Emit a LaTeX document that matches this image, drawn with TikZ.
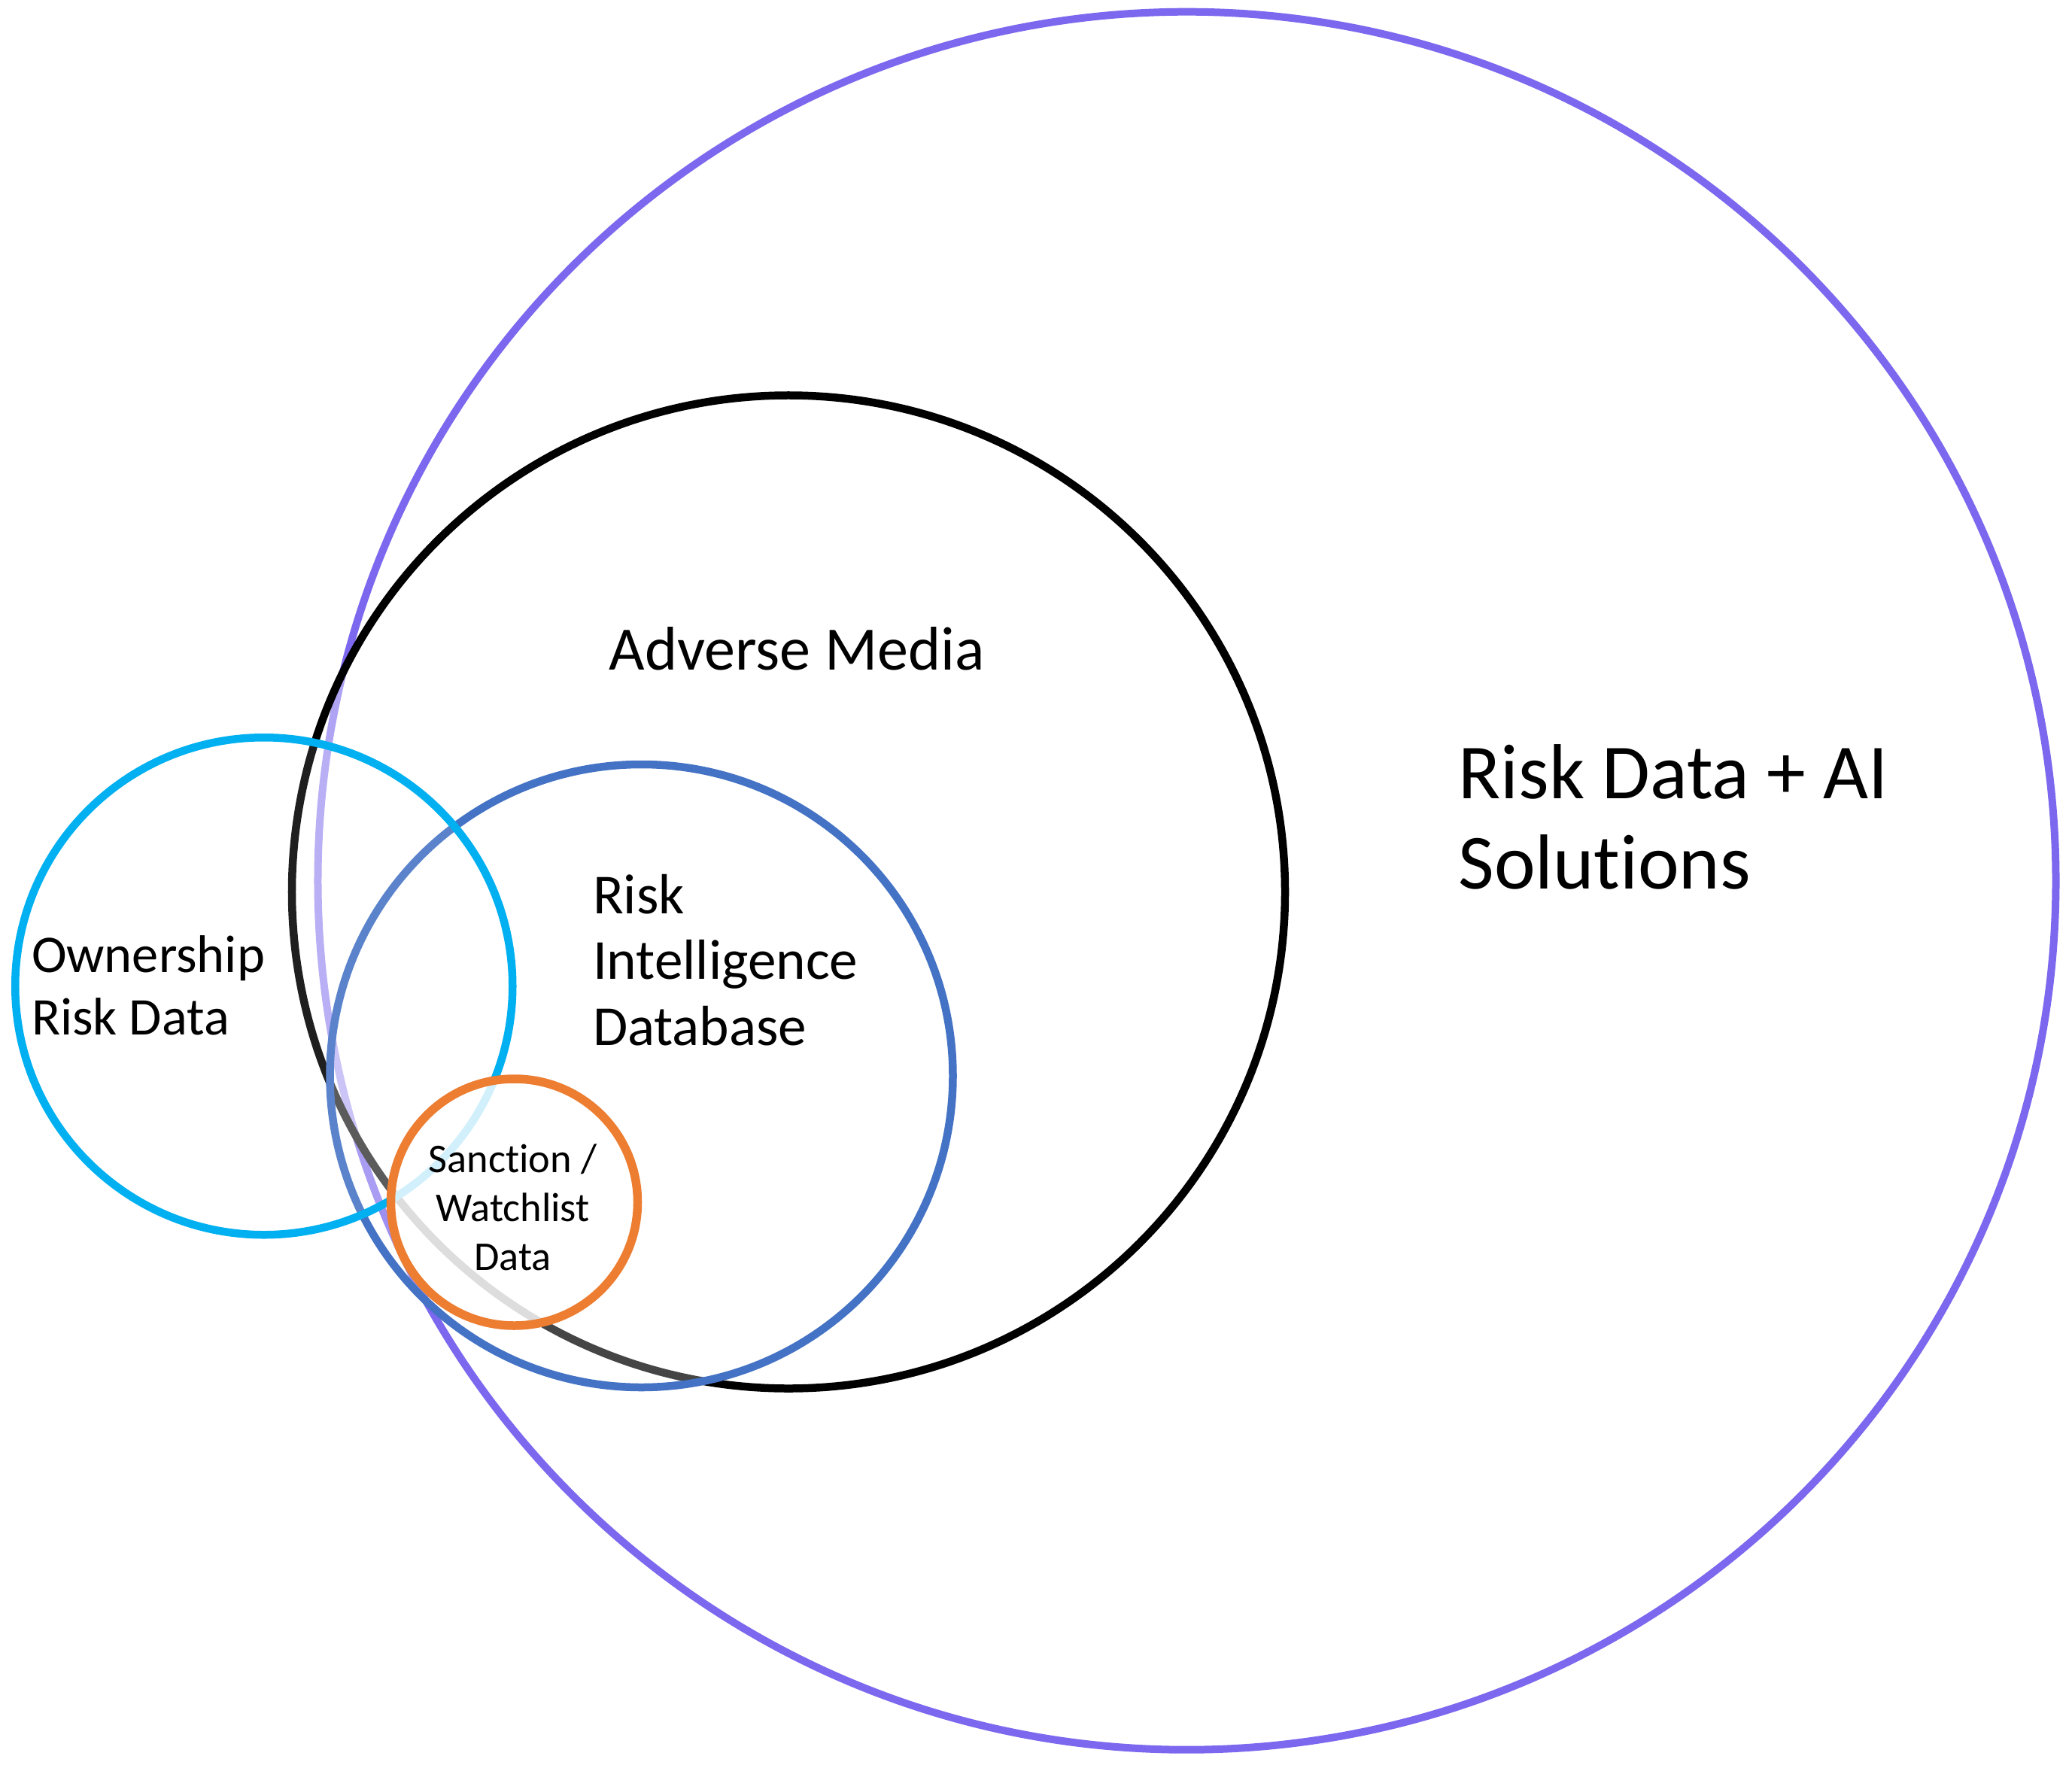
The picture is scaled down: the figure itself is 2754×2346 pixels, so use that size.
\documentclass[tikz,border=0pt]{standalone}
\usepackage{fontspec}
\setmainfont{Carlito}[Ligatures=NoCommon]
\definecolor{cPurple}{HTML}{7B68EE}
\definecolor{cBlue}{HTML}{4472C4}
\definecolor{cCyan}{HTML}{00B0F0}
\definecolor{cOrange}{HTML}{ED7D31}
\tikzset{
  ring/.style={circle, inner sep=0pt, outer sep=0pt, fill=white},
  lbl/.style={inner sep=0pt, outer sep=0pt, text=black},
}
\begin{document}
\begin{tikzpicture}[x=1bp,y=-1bp]
\useasboundingbox[fill=white] (0,0) rectangle (2754,2346);
\node[ring, draw=cPurple, line width=10bp, fill opacity=0, minimum size=2310bp] (ai) at (1577.5,1170.7) {};
\node[ring, draw=black, line width=10.5bp, fill opacity=0.4, minimum size=1320bp] (adv) at (1048,1185.5) {};
\node[ring, draw=cBlue, line width=10.5bp, fill opacity=0.27, minimum size=828bp] (rid) at (852.5,1430) {};
\node[ring, draw=cCyan, line width=10.5bp, fill opacity=0.12, minimum size=661bp] (own) at (350.75,1310.75) {};
\node[ring, draw=cOrange, line width=11.5bp, fill opacity=0.82, minimum size=328bp] (san) at (683.5,1598) {};
\node[lbl, anchor=base, font=\fontsize{82.4}{100}\selectfont] (tadv) at (1059,890.7) {Adverse Media};
\node[lbl, anchor=base west, align=left, font=\fontsize{104}{120.7}\selectfont] (tai) at (1938.5,1181.7) {Risk Data + AI\\Solutions};
\node[lbl, anchor=base west, align=left, font=\fontsize{75.5}{87.5}\selectfont] (trid) at (788,1389) {Risk\\Intelligence\\Database};
\node[lbl, anchor=base west, align=left, font=\fontsize{70.7}{83.3}\selectfont] (town) at (42,1375) {Ownership\\Risk Data};
\node[lbl, anchor=base, align=center, font=\fontsize{54.5}{65}\selectfont] (tsan) at (681.5,1688) {Sanction /\\Watchlist\\Data};
\end{tikzpicture}
\end{document}
